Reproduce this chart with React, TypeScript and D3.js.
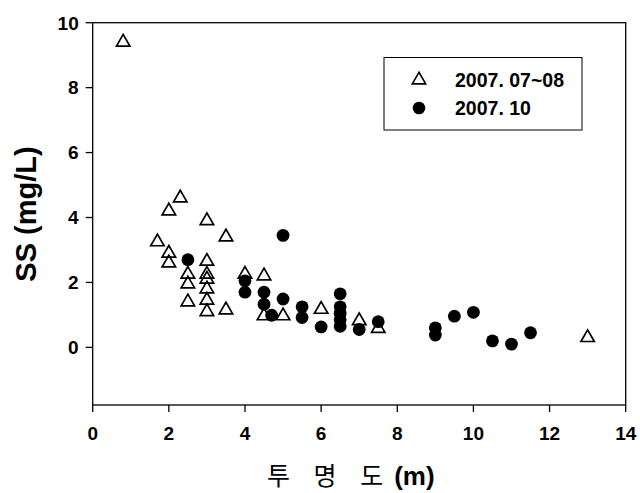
import { useEffect, useRef } from "react";
import * as d3 from "d3";

// 2007. 07~08 (open triangles)
const summerX = [0.8, 2.3, 2.0, 3.0, 3.5, 1.7, 2.0, 2.0, 3.0, 2.5, 2.5, 3.0, 3.0, 2.5, 3.0, 3.0, 3.0, 3.5, 4.0, 4.5, 4.5, 5.0, 6.0, 7.0, 7.5, 13.0];
const summerY = [9.4, 4.6, 4.2, 3.9, 3.4, 3.25, 2.9, 2.6, 2.65, 2.25, 1.95, 2.25, 2.1, 1.4, 1.8, 1.45, 1.1, 1.15, 2.25, 2.2, 0.97, 0.97, 1.17, 0.82, 0.58, 0.3];

// 2007. 10 (filled circles)
const octX = [2.5, 4.0, 4.0, 4.5, 4.5, 4.7, 5.0, 5.0, 5.5, 5.5, 6.0, 6.5, 6.5, 6.5, 6.5, 6.5, 7.0, 7.5, 9.0, 9.0, 9.5, 10.0, 10.5, 11.0, 11.5];
const octY = [2.7, 2.05, 1.7, 1.7, 1.33, 0.99, 3.45, 1.49, 1.25, 0.92, 0.63, 1.65, 1.25, 1.05, 0.85, 0.65, 0.55, 0.79, 0.6, 0.38, 0.96, 1.08, 0.2, 0.1, 0.45];

const xTicks = [0, 2, 4, 6, 8, 10, 12, 14];
const yTicks = [0, 2, 4, 6, 8, 10];
const legendLabels = ["2007. 07~08", "2007. 10"];

const W = 640;
const H = 493;
const FONT = "'Liberation Sans', Arial, sans-serif";

export default function App() {
  const svgElem = useRef<SVGSVGElement>(null);

  useEffect(() => {
    const root = d3.select(svgElem.current);
    root.selectAll("*").remove();
    const svg = root.append("g");

    const left = 92.7, right = 625.7, top = 22.7, bottom = 405;
    const x = d3.scaleLinear().domain([0, 14]).range([left, right]);
    const y = d3.scaleLinear().domain([-1.775, 10]).range([bottom, top]);

    // frame
    svg.append("rect")
      .attr("x", left).attr("y", top)
      .attr("width", right - left).attr("height", bottom - top)
      .attr("fill", "none").attr("stroke", "#000").attr("stroke-width", 1.3);

    // x axis
    const xAxis = svg.append("g").attr("transform", `translate(0,${bottom})`);
    xAxis.selectAll("line").data(xTicks).join("line")
      .attr("x1", (d) => x(d)).attr("x2", (d) => x(d))
      .attr("y1", 0).attr("y2", 7)
      .attr("stroke", "#000").attr("stroke-width", 1.3);
    xAxis.selectAll("text").data(xTicks).join("text")
      .attr("x", (d) => x(d)).attr("y", 35)
      .attr("text-anchor", "middle")
      .attr("font-family", FONT).attr("font-weight", "bold").attr("font-size", 19)
      .text((d) => d);

    // y axis
    const yAxis = svg.append("g").attr("transform", `translate(${left},0)`);
    yAxis.selectAll("line").data(yTicks).join("line")
      .attr("x1", -7).attr("x2", 0)
      .attr("y1", (d) => y(d)).attr("y2", (d) => y(d))
      .attr("stroke", "#000").attr("stroke-width", 1.3);
    yAxis.selectAll("text").data(yTicks).join("text")
      .attr("x", -14).attr("y", (d) => y(d))
      .attr("dy", "0.36em")
      .attr("text-anchor", "end")
      .attr("font-family", FONT).attr("font-weight", "bold").attr("font-size", 19)
      .text((d) => d);

    // axis titles
    svg.append("text")
      .attr("transform", `translate(35.5,214) rotate(-90)`)
      .attr("text-anchor", "middle")
      .attr("font-family", FONT).attr("font-weight", "bold").attr("font-size", 29)
      .text("SS (mg/L)");

    const xt = svg.append("text")
      .attr("x", 267).attr("y", 485)
      .attr("font-size", 25);
    xt.append("tspan")
      .attr("font-family", "'Noto Sans CJK KR', sans-serif")
      .attr("word-spacing", 18)
      .text("투 명 도");
    xt.append("tspan")
      .attr("dx", 11)
      .attr("font-family", FONT).attr("font-weight", "bold").attr("font-size", 26)
      .text("(m)");

    const tri = d3.symbol().type(d3.symbolTriangle).size(78);

    // triangles
    svg.append("g").selectAll("path")
      .data(d3.range(summerX.length)).join("path")
      .attr("d", tri)
      .attr("transform", (i) => `translate(${x(summerX[i])},${y(summerY[i])})`)
      .attr("fill", "none").attr("stroke", "#000").attr("stroke-width", 1.7);

    // circles
    svg.append("g").selectAll("circle")
      .data(d3.range(octX.length)).join("circle")
      .attr("cx", (i) => x(octX[i])).attr("cy", (i) => y(octY[i]))
      .attr("r", 6.4).attr("fill", "#000");

    // legend
    const lg = svg.append("g");
    lg.append("rect")
      .attr("x", 384).attr("y", 57.5).attr("width", 198).attr("height", 72.5)
      .attr("fill", "#fff").attr("stroke", "#000").attr("stroke-width", 1);
    lg.append("path").attr("d", tri)
      .attr("transform", "translate(419,80)")
      .attr("fill", "none").attr("stroke", "#000").attr("stroke-width", 1.6);
    lg.append("circle").attr("cx", 419).attr("cy", 108).attr("r", 6.3).attr("fill", "#000");
    lg.selectAll("text").data(legendLabels).join("text")
      .attr("x", 455).attr("y", (d, i) => 87 + i * 28)
      .attr("font-family", FONT).attr("font-weight", "bold").attr("font-size", 19.5)
      .text((d) => d);
  }, []);

  return (
    <div style={{ position: "absolute", left: 0, top: 0 }}>
      <svg ref={svgElem} width={W} height={H} style={{ display: "block", background: "#fff" }}></svg>
    </div>
  );
}
